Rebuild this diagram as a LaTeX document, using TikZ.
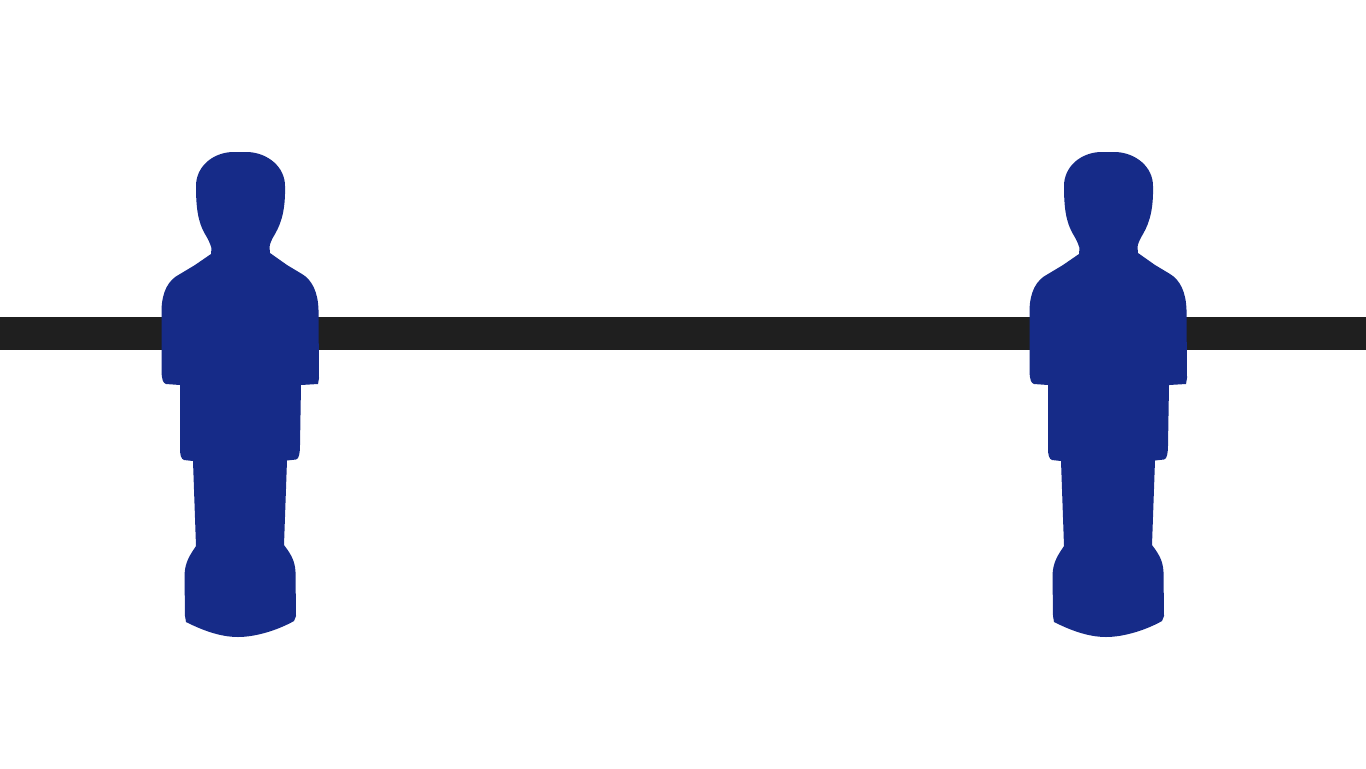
\documentclass[tikz,border=0pt]{standalone}
\usepackage{tikz}

\definecolor{playerblue}{HTML}{162B88}
\definecolor{rodblack}{HTML}{1F1F1F}

\begin{document}
\begin{tikzpicture}[
		x=0.02cm, y=-0.02cm,
		rod/.style={fill=rodblack, draw=none},
		figure/.style={fill=playerblue, draw=none},
		player/.pic={
			\fill[figure]
			(-8,152) -- (8,152)
			.. controls (28,153) and (45,167) .. (45,186)
			.. controls (45.5,208) and (42,222) .. (35,234)
			.. controls (32,239) and (30,243) .. (29.5,247)
			-- (30,253)
			-- (47,265)
			-- (62,274)
			.. controls (72,280) and (78,292) .. (78.5,310)
			-- (79,378)
			-- (78,384)
			-- (61,385)
			-- (60,445)
			.. controls (60,453) and (59,459) .. (56,459.5)
			-- (47,460.5)
			-- (44,545)
			.. controls (50,553) and (55,560) .. (55.5,572)
			-- (56,616)
			-- (54,621)
			.. controls (38,630) and (16,637) .. (-2,637)
			.. controls (-20,637) and (-38,630) .. (-54,622)
			-- (-55,616)
			-- (-55.5,575)
			.. controls (-55,562) and (-50,555) .. (-44,546)
			-- (-47,461)
			-- (-56,460)
			.. controls (-59,459) and (-60,455) .. (-60,448)
			-- (-60,385)
			-- (-74,384)
			.. controls (-77,383) and (-78,380) .. (-78.5,372)
			-- (-78.5,310)
			.. controls (-78,292) and (-72,280) .. (-60,274)
			-- (-45,265)
			-- (-29,254)
			-- (-28.5,248)
			.. controls (-30,243) and (-32,239) .. (-35,234)
			.. controls (-42,222) and (-44,208) .. (-44,186)
			.. controls (-44,167) and (-28,153) .. (-8,152)
			-- cycle;
		}
		]
		
		% =========================================================
		% Canvas and rod
		% =========================================================
		\useasboundingbox (0,0) rectangle (1366,768);
		\fill[rod] (0,317) rectangle (1366,350);
		
		% =========================================================
		% Players on the rod
		% =========================================================
		\pic (PlayerLeft) at (240,0) {player};
		\pic (PlayerRight) at (1108,0) {player};
	\end{tikzpicture}
\end{document}
